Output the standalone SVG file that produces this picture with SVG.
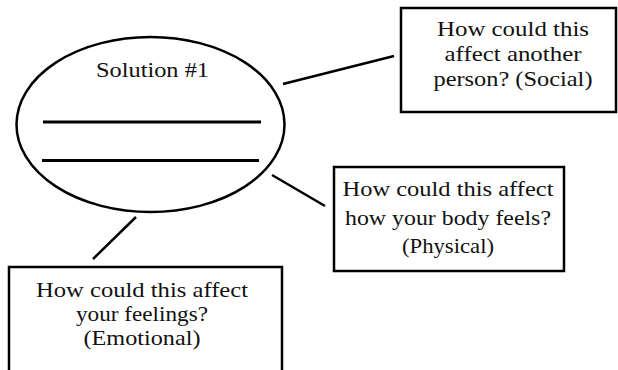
<svg xmlns="http://www.w3.org/2000/svg" width="618" height="370" viewBox="0 0 618 370">
<style>
.shape{fill:#fff;stroke:#000;stroke-width:2.5}
.rule{stroke:#000;stroke-width:3}
.conn{stroke:#000;stroke-width:2.5;fill:none}
text{font-family:"Liberation Serif","Times New Roman",serif;font-size:22px;fill:#111;text-anchor:middle}
</style>
<rect width="618" height="370" fill="#fff"/>
<g id="connectors">
<line class="conn" x1="283" y1="84" x2="394" y2="56"/>
<line class="conn" x1="272" y1="175" x2="325" y2="206"/>
<line class="conn" x1="136" y1="217" x2="93" y2="259"/>
</g>
<g id="solution">
<ellipse class="shape" cx="150.5" cy="124.5" rx="134" ry="87.5"/>
<text x="152.5" y="77" textLength="113" lengthAdjust="spacingAndGlyphs">Solution #1</text>
<line class="rule" x1="43" y1="122" x2="261" y2="122"/>
<line class="rule" x1="42" y1="160.5" x2="259" y2="160.5"/>
</g>
<g id="social">
<rect class="shape" x="401" y="8" width="215" height="104"/>
<text x="513" y="36" textLength="152" lengthAdjust="spacingAndGlyphs">How could this</text>
<text x="513" y="61" textLength="137" lengthAdjust="spacingAndGlyphs">affect another</text>
<text x="513" y="86" textLength="159" lengthAdjust="spacingAndGlyphs">person? (Social)</text>
</g>
<g id="physical">
<rect class="shape" x="334" y="167" width="230" height="104"/>
<text x="448" y="196" textLength="211" lengthAdjust="spacingAndGlyphs">How could this affect</text>
<text x="448" y="225" textLength="206" lengthAdjust="spacingAndGlyphs">how your body feels?</text>
<text x="448" y="253" textLength="92" lengthAdjust="spacingAndGlyphs">(Physical)</text>
</g>
<g id="emotional">
<rect class="shape" x="9" y="267" width="273" height="120"/>
<text x="142" y="297" textLength="212" lengthAdjust="spacingAndGlyphs">How could this affect</text>
<text x="142" y="321" textLength="132" lengthAdjust="spacingAndGlyphs">your feelings?</text>
<text x="142" y="345" textLength="117" lengthAdjust="spacingAndGlyphs">(Emotional)</text>
</g>
</svg>
